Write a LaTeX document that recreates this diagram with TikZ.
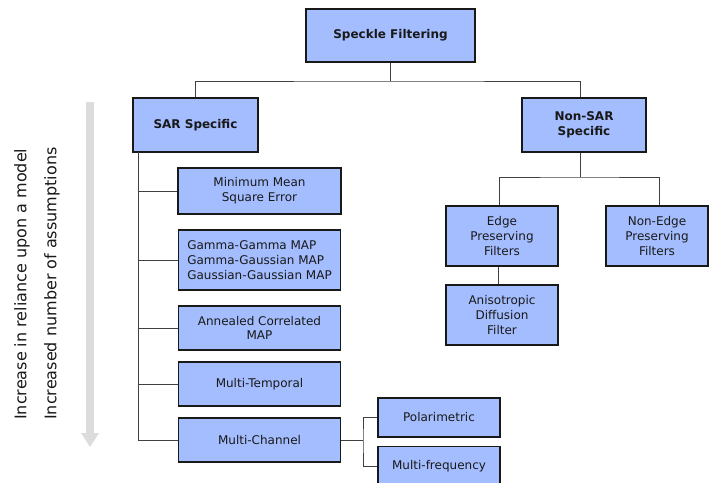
\documentclass[tikz,border=0pt]{standalone}
\usepackage{fontspec}
\setmainfont{DejaVu Sans}
\usepackage{xcolor}
\usepackage{tikz}
\usetikzlibrary{positioning, arrows.meta}

\definecolor{boxblue}{RGB}{164,189,255}
\definecolor{arrowgray}{RGB}{220,220,220}

\begin{document}
\begin{tikzpicture}[
    x=1pt, y=1pt,
    box_style/.style={draw=black!90, fill=boxblue, line width=1.2pt, inner sep=2pt,
        align=center, text=black!90, font=\fontsize{12}{14.7}\selectfont},
    head_style/.style={box_style, font=\bfseries\fontsize{12}{14.7}\selectfont},
    link_style/.style={black!75, line width=1pt},
    trend_style/.style={arrowgray, line width=8pt, -{Triangle[length=14pt, width=17pt]}},
    side_style/.style={rotate=90, anchor=west, inner sep=0pt, text=black!90,
        font=\fontsize{16}{19}\selectfont}
]
    \clip (0,0) rectangle (709,-482);

    % Nodes
    \node[head_style, minimum width=169pt, minimum height=53pt] (speckle) at (390.5,-35.5) {Speckle Filtering};
    \node[head_style, minimum width=125pt, minimum height=54pt] (sar) at (195.5,-125) {SAR Specific};
    \node[head_style, minimum width=124pt, minimum height=54pt] (nonsar) at (584,-125) {Non-SAR\\Specific};

    \node[box_style, minimum width=163pt, minimum height=46pt] (mmse) at (259.5,-191) {Minimum Mean\\Square Error};
    \node[box_style, minimum width=162pt, minimum height=60pt, align=left] (gamma) at (259.5,-260) {Gamma-Gamma MAP\\Gamma-Gaussian MAP\\Gaussian-Gaussian MAP};
    \node[box_style, minimum width=162pt, minimum height=44pt] (annealed) at (259.5,-328) {Annealed Correlated\\MAP};
    \node[box_style, minimum width=162pt, minimum height=44pt] (multitemp) at (259.5,-384) {Multi-Temporal};
    \node[box_style, minimum width=162pt, minimum height=44pt] (multichan) at (259.5,-440) {Multi-Channel};

    \node[box_style, minimum width=122pt, minimum height=39pt] (polar) at (439,-417.5) {Polarimetric};
    \node[box_style, minimum width=122pt, minimum height=39pt] (multifreq) at (439,-466) {Multi-frequency};

    \node[box_style, minimum width=112pt, minimum height=60pt] (edge) at (502,-236) {Edge\\Preserving\\Filters};
    \node[box_style, minimum width=102pt, minimum height=60pt] (nonedge) at (657,-236) {Non-Edge\\Preserving\\Filters};
    \node[box_style, minimum width=112pt, minimum height=60pt] (aniso) at (502,-315) {Anisotropic\\Diffusion\\Filter};

    % Coordinates
    \coordinate (top_bus) at (390.5,-81);
    \coordinate (nonsar_bus) at (580,-177);
    \coordinate (sar_trunk) at (138,-152);
    \coordinate (mc_bus) at (363,-440);

    % Connectors
    \draw[link_style] (speckle.south) -- (top_bus);
    \draw[link_style] (sar.north) |- (top_bus) -| ([xshift=-4pt]nonsar.north);
    \draw[link_style] ([xshift=-4pt]nonsar.south) -- (nonsar_bus);
    \draw[link_style] ([xshift=-3pt]edge.north) |- (nonsar_bus) -| ([xshift=2pt]nonedge.north);
    \draw[link_style] ([xshift=-4pt]edge.south) -- ([xshift=-4pt]aniso.north);

    \draw[link_style] (sar_trunk) |- (mmse.west);
    \draw[link_style] (sar_trunk) |- (gamma.west);
    \draw[link_style] (sar_trunk) |- (annealed.west);
    \draw[link_style] (sar_trunk) |- (multitemp.west);
    \draw[link_style] (sar_trunk) |- (multichan.west);

    \draw[link_style] (multichan.east) -- (mc_bus);
    \draw[link_style] (polar.west) -| (mc_bus) |- (multifreq.west);

    % Side arrow and labels
    \coordinate (trend_top) at (90,-102);
    \coordinate (trend_end) at (90,-447);
    \draw[trend_style] (trend_top) -- (trend_end);
    \node[side_style] (label_model) at (22,-420) {Increase in reliance upon a model};
    \node[side_style] (label_assume) at (52,-420) {Increased number of assumptions};
\end{tikzpicture}
\end{document}
